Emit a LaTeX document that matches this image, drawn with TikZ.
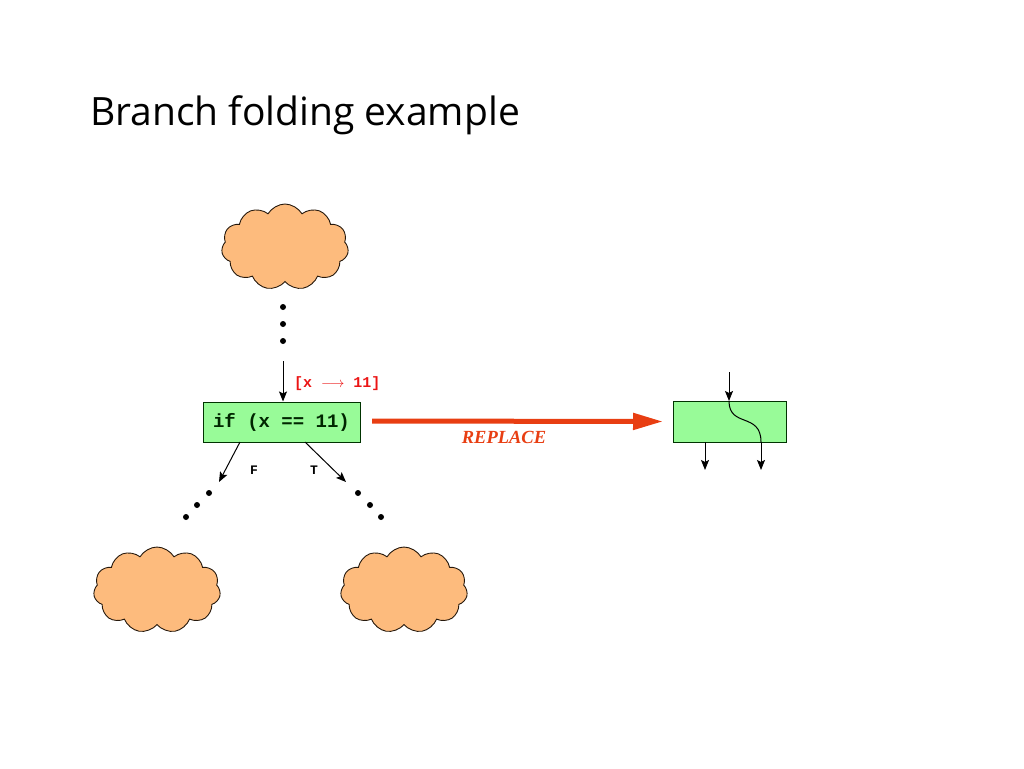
\documentclass[tikz,border=0pt]{standalone}
\usepackage{fontspec}
\setmainfont{Liberation Serif}
\newfontfamily\titlefont{Open Sans}
\newfontfamily\codefont{Liberation Mono}
\usetikzlibrary{shapes.symbols,arrows.meta}
\definecolor{cloudfill}{RGB}{253,187,125}
\definecolor{boxfill}{RGB}{152,251,152}
\definecolor{repred}{RGB}{232,62,18}
\definecolor{labred}{RGB}{235,20,20}
\begin{document}
\begin{tikzpicture}[x=1pt,y=-1pt,
  cloudnode/.style={cloud, cloud puffs=11, cloud puff arc=120, aspect=1.5, draw=black!80!brown, line width=0.9pt, fill=cloudfill, minimum width=127pt, minimum height=86pt, inner sep=0pt},
  codebox/.style={draw=black!80!green, line width=1pt, fill=boxfill, inner sep=0pt},
  blk/.style={-{Stealth[length=10pt,width=8pt,inset=2pt]}, line width=1pt},
  dotm/.style={circle, fill=black, inner sep=0pt, minimum size=6pt},
  codelab/.style={font=\codefont\bfseries}]
\useasboundingbox (0,0) rectangle (1024,768);
% title
\node[anchor=base west, inner sep=0pt, font=\titlefont\fontsize{39}{45}\selectfont] (title) at (90,125) {Branch folding example};
% clouds
\node[cloudnode] (ctop) at (285,247) {};
\node[cloudnode] (cleft) at (157,590) {};
\node[cloudnode] (cright) at (404,590) {};
% top dots
\node[dotm] (d1) at (283,307) {};
\node[dotm] (d2) at (283,324) {};
\node[dotm] (d3) at (283,341) {};
% main box
\node[codebox, minimum width=157pt, minimum height=40pt] (ifbox) at (281.5,422) {};
\node[codelab, font=\codefont\bfseries\fontsize{19}{22}\selectfont, text=black!85!green] (iftext) at (281.5,422) {if (x == 11)};
\coordinate (inTop) at (283,361);
\draw[blk] (inTop) -- (ifbox.north -| inTop);
\node[anchor=west, inner sep=0pt, text=labred, font=\codefont\bfseries\fontsize{15}{17}\selectfont] (xlab) at (294,384) {[x $\longrightarrow$ 11]};
% branches
\coordinate (fs) at (240,442);
\coordinate (fe) at (219,482);
\coordinate (ts) at (305,442);
\coordinate (te) at (346,482);
\draw[blk] (fs) -- (fe);
\draw[blk] (ts) -- (te);
\node[font=\codefont\bfseries\fontsize{13}{15}\selectfont] (flab) at (254,470) {F};
\node[font=\codefont\bfseries\fontsize{13}{15}\selectfont] (tlab) at (314,470) {T};
\node[dotm] (l1) at (209,493) {};
\node[dotm] (l2) at (197,505) {};
\node[dotm] (l3) at (186,517) {};
\node[dotm] (r1) at (358,493) {};
\node[dotm] (r2) at (370,505) {};
\node[dotm] (r3) at (381,517) {};
% replace arrow
\node[codebox, minimum width=113pt, minimum height=41pt] (newbox) at (729.5,421.5) {};
\coordinate (rs) at (372,421);
\draw[repred, line width=5pt, -{Triangle[length=30pt,width=16pt]}] (rs) -- (newbox.west -| 663,0);
\node[text=repred, font=\bfseries\itshape\fontsize{18.5}{20}\selectfont] (rep) at (504,437) {REPLACE};
% right box flow
\coordinate (nin) at (729,372);
\coordinate (ntop) at (729,401);
\coordinate (nbot) at (761,442);
\draw[blk] (nin) -- (ntop);
\draw[line width=1pt] (ntop) .. controls (729,428) and (761,412) .. (nbot);
\coordinate (o1s) at (705,442);
\coordinate (o1e) at (705,470);
\coordinate (o2e) at (761,470);
\draw[blk] (o1s) -- (o1e);
\draw[blk] (nbot) -- (o2e);
\end{tikzpicture}
\end{document}
